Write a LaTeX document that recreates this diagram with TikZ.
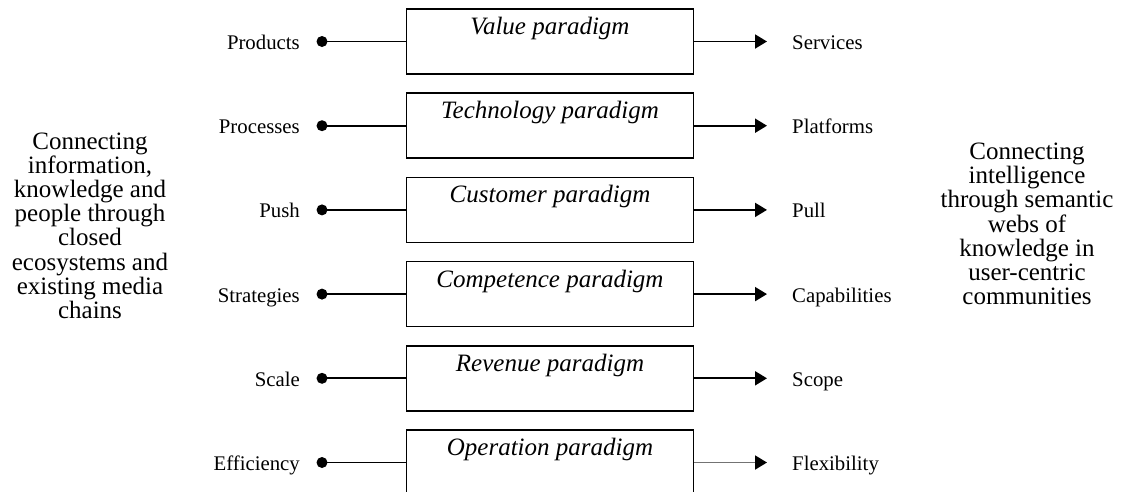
\documentclass[tikz,border=0pt]{standalone}
\usepackage{fontspec}
\setmainfont{Liberation Serif}
\usetikzlibrary{arrows.meta}
\begin{document}
\begin{tikzpicture}[x=1pt,y=-1pt,
  pbox/.style={draw, line width=1.6pt, minimum width=287pt, minimum height=65pt, inner sep=0pt},
  ptitle/.style={font=\fontsize{25}{25}\selectfont\itshape, anchor=base, inner sep=0pt},
  sidel/.style={font=\fontsize{20.8}{21}\selectfont, inner sep=0pt, anchor=base east},
  sider/.style={font=\fontsize{20.8}{21}\selectfont, inner sep=0pt, anchor=base west},
  dotend/.style={circle, fill, inner sep=0pt, minimum size=11pt},
  conn/.style={line width=1.9pt},
  arr/.style={conn, -{Triangle[length=12pt,width=14pt,black]}},
  big/.style={font=\fontsize{25}{24.2}\selectfont, align=center, inner sep=0pt, anchor=base}
]
\useasboundingbox (0,0) rectangle (1123,491);
\clip (0,0) rectangle (1123,491);

% six paradigm shifts, one row each
\foreach \i/\from/\name/\to/\col in {
  0/Products/Value/Services/black,
  1/Processes/Technology/Platforms/black,
  2/Push/Customer/Pull/black,
  3/Strategies/Competence/Capabilities/black,
  4/Scale/Revenue/Scope/black,
  5/Efficiency/Operation/Flexibility/black!55}{
  \pgfmathsetmacro{\top}{9+84.2*\i}
  \pgfmathsetmacro{\mid}{\top+32.5}
  \node[pbox] (b\i) at (550,\mid) {};
  \node[ptitle] (t\i) at (550,\top+25.5) {\name{} paradigm};
  \node[dotend] (d\i) at (322,\mid) {};
  \coordinate (e\i) at (767,\mid);
  \node[sidel] (l\i) at (300,\mid+8) {\from};
  \node[sider] (r\i) at (792,\mid+8) {\to};
  \draw[conn] (d\i.center) -- (b\i.west);
  \draw[arr, draw=\col] (b\i.east) -- (e\i);
}

% the two ends of the shift (anchored at the last baseline)
\node[big] (old) at (90,318.4) {Connecting\\information,\\knowledge and\\people through\\closed\\ecosystems and\\existing media\\chains};
\node[big] (new) at (1027,304.6) {Connecting\\intelligence\\through semantic\\webs of\\knowledge in\\user-centric\\communities};
\end{tikzpicture}
\end{document}
